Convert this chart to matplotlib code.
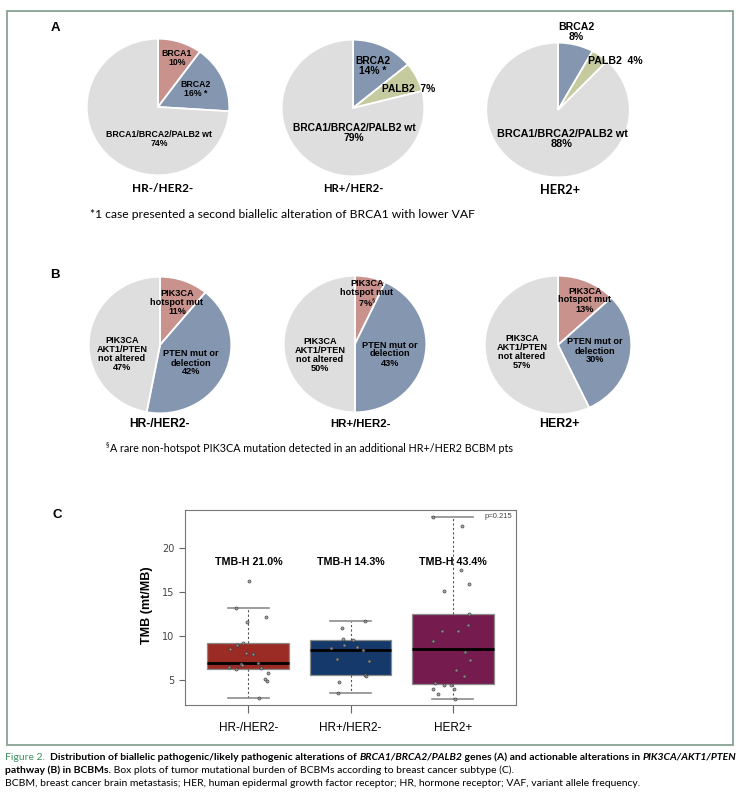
import numpy as np
import matplotlib
matplotlib.use("Agg")
from matplotlib import pyplot as plt
from matplotlib.patches import Rectangle

# ---- data ----
subtypes = ["HR-/HER2-", "HR+/HER2-", "HER2+"]

# A: BRCA1 / BRCA2 / PALB2 / wt (%)
brca_names = ["BRCA1", "BRCA2", "PALB2", "wt"]
brca_hrneg = [10, 16, 0, 74]
brca_hrpos = [0, 14, 7, 79]
brca_her2 = [0, 8, 4, 88]

# B: PIK3CA hotspot / PTEN / not altered (%)
pik_hrneg = [11, 42, 47]
pik_hrpos = [7, 43, 50]
pik_her2 = [13, 30, 57]

# C: TMB box stats
box_q1 = [6.33, 5.64, 4.58]
box_med = [6.97, 8.45, 8.53]
box_q3 = [9.18, 9.56, 12.56]
box_lo = [2.99, 3.56, 2.91]
box_hi = [13.16, 11.72, 23.46]
tmb_high = ["21.0%", "14.3%", "43.4%"]

# C: individual TMB values and their jitter offsets
tmb_hrneg = [16.3, 13.16, 12.18, 11.6, 9.25, 9.0, 8.57, 8.07, 8.0, 6.82, 6.97,
             6.55, 6.25, 6.7, 6.44, 5.87, 5.2, 4.9, 3.0]
jit_hrneg = [0.01, -0.12, 0.17, -0.01, -0.05, -0.11, -0.18, -0.02, 0.05, -0.07, 0.09,
             -0.19, -0.12, -0.06, 0.12, 0.19, 0.16, 0.18, 0.10]
tmb_hrpos = [11.72, 10.9, 9.67, 9.52, 8.95, 8.83, 8.4, 8.68, 7.4, 7.24, 5.64,
             5.53, 4.77, 3.56]
jit_hrpos = [0.14, -0.08, -0.07, 0.02, -0.06, 0.06, 0.12, -0.19, -0.13, 0.18, 0.14,
             0.15, -0.11, -0.12]
tmb_her2 = [23.46, 22.5, 17.5, 15.9, 15.1, 12.56, 11.26, 10.62, 10.54, 9.4, 8.23,
            7.28, 6.14, 5.53, 4.73, 4.5, 4.5, 4.0, 3.97, 3.48, 2.91]
jit_her2 = [-0.19, 0.09, 0.08, 0.16, -0.08, 0.16, 0.15, -0.10, 0.05, -0.19, 0.12,
            0.17, 0.03, 0.11, -0.17, -0.08, -0.02, -0.19, 0.01, -0.14, 0.02]

PINK, BLUE, GREEN, GRAY = "#c9928d", "#8597b0", "#c5ca9f", "#dedede"
brca_colors = [PINK, BLUE, GREEN, GRAY]
pik_colors = [PINK, BLUE, GRAY]
box_colors = ["#9a2c25", "#15396b", "#761b4e"]

W, H = 742, 800
fig = plt.figure(figsize=(W / 100, H / 100), dpi=100)
renderer = fig.canvas.get_renderer()

SANS = ["Liberation Sans", "DejaVu Sans"]
CAL = ["Lato", "DejaVu Sans"]


def fx(x):
    return x / W


def fy(y):
    return 1 - y / H


def put(x, y, s, size=6.5, family=SANS, weight="bold", **kw):
    kw.setdefault("ha", "center")
    kw.setdefault("va", "center")
    return fig.text(fx(x), fy(y), s, fontsize=size, family=family,
                    fontweight=weight, linespacing=1.0, **kw)


def fit(x, y, s, width, family=CAL, weight="normal", **kw):
    t = fig.text(fx(x), fy(y), s, fontsize=10, family=family, fontweight=weight,
                 va="center", **kw)
    t.set_fontsize(10 * width / t.get_window_extent(renderer).width)
    return t


def pie(cx, cy, vals, cols, w=144, h=138):
    ax = fig.add_axes([fx(cx - w / 2), fy(cy + h / 2), w / W, h / H])
    keep = [(v, c) for v, c in zip(vals, cols) if v > 0]
    ax.pie([v for v, _ in keep], colors=[c for _, c in keep], startangle=90,
           counterclock=False, wedgeprops=dict(edgecolor="white", linewidth=1.3))
    ax.set_xlim(-1.01, 1.01)
    ax.set_ylim(-1.01, 1.01)
    ax.set_aspect("auto")
    ax.axis("off")
    return ax


# frame
fig.patches.append(Rectangle((fx(7), fy(745)), (733 - 7) / W, (745 - 11) / H,
                             transform=fig.transFigure, fill=False,
                             edgecolor="#86a392", linewidth=1.3))

# ---- A ----
put(55, 28, "A", size=9.5)
pie(158, 107, brca_hrneg, brca_colors)
pie(353, 108, brca_hrpos, brca_colors)
pie(558, 110, brca_her2, brca_colors, w=145, h=136)

put(177, 58, "BRCA1\n10%", size=6.3)
put(196, 89, "BRCA2\n16% *", size=6.3)
put(159, 139, "BRCA1/BRCA2/PALB2 wt\n74%", size=6.3)
put(373, 66, "BRCA2\n14% *", size=7.4)
put(382, 89, "PALB2  7%", size=7.4, ha="left")
put(354, 133, "BRCA1/BRCA2/PALB2 wt\n79%", size=7.4)
put(576, 32, "BRCA2\n8%", size=7.6)
put(588, 61, "PALB2  4%", size=7.6, ha="left")
put(562, 139, "BRCA1/BRCA2/PALB2 wt\n88%", size=7.8)

fit(132, 189, subtypes[0], 61, weight="bold", ha="left")
fit(323, 189, subtypes[1], 61, weight="bold", ha="left")
fit(540, 190, subtypes[2], 40, weight="bold", ha="left")
fit(90, 215, "*1 case presented a second biallelic alteration of BRCA1 with lower VAF",
    386, ha="left")

# ---- B ----
put(55, 275, "B", size=9.5)
pie(160, 345, pik_hrneg, pik_colors)
pie(355, 344, pik_hrpos, pik_colors)
pie(558, 345, pik_her2, pik_colors, w=148, h=140)

put(177, 303, "PIK3CA\nhotspot mut\n11%", size=6.6)
put(122, 354, "PIK3CA\nAKT1/PTEN\nnot altered\n47%", size=6.6)
put(191, 363, "PTEN mut or\ndelection\n42%", size=6.6)
put(367, 294, "PIK3CA\nhotspot mut\n7%$^{\\S}$", size=6.6)
put(320, 355, "PIK3CA\nAKT1/PTEN\nnot altered\n50%", size=6.6)
put(390, 354, "PTEN mut or\ndelection\n43%", size=6.6)
put(585, 300, "PIK3CA\nhotspot mut\n13%", size=6.6)
put(522, 352, "PIK3CA\nAKT1/PTEN\nnot altered\n57%", size=6.6)
put(595, 351, "PTEN mut or\ndelection\n30%", size=6.6)

fit(129, 424, subtypes[0], 60, family=SANS, weight="bold", ha="left")
fit(330, 424, subtypes[1], 60, family=SANS, weight="bold", ha="left")
fit(539, 424, subtypes[2], 40, family=SANS, weight="bold", ha="left")
put(106, 445, "\u00a7", size=5, family=CAL, weight="normal", ha="left")
fit(110, 449, "A rare non-hotspot PIK3CA mutation detected in an additional HR+/HER2 BCBM pts",
    402, ha="left")

# ---- C ----
put(57, 515, "C", size=9.5)
bx = fig.add_axes([fx(185), fy(705), 331 / W, 195 / H])
stats = [dict(med=m, q1=a, q3=b, whislo=lo, whishi=hi, fliers=[])
         for m, a, b, lo, hi in zip(box_med, box_q1, box_q3, box_lo, box_hi)]
pos = np.arange(1, len(subtypes) + 1)
bp = bx.bxp(stats, positions=pos, widths=0.8, patch_artist=True, showfliers=False,
            capwidths=0.4,
            boxprops=dict(edgecolor="#8c8c8c", linewidth=0.9),
            whiskerprops=dict(color="#555555", linestyle=(0, (2, 2)), linewidth=0.8),
            capprops=dict(color="#8c8c8c", linewidth=1.2),
            medianprops=dict(color="black", linewidth=2))
for patch, c in zip(bp["boxes"], box_colors):
    patch.set_facecolor(c)

for p, vals, jit in zip(pos, [tmb_hrneg, tmb_hrpos, tmb_her2],
                        [jit_hrneg, jit_hrpos, jit_her2]):
    bx.plot(p + np.array(jit), vals, "o", ms=2.2, mfc="#9a9a9a", mec="#333333",
            mew=0.5, alpha=0.85, zorder=5)

for p, t in zip(pos, tmb_high):
    bx.text(p, 18.44, "TMB-H " + t, ha="center", va="center", fontsize=7.7,
            family=SANS, fontweight="bold")
bx.text(0.99, 0.965, "p=0.215", transform=bx.transAxes, ha="right", va="center",
        fontsize=5.5, color="#444444", family=SANS)

bx.set_xlim(0.38, 3.62)
bx.set_ylim(2.2, 24.3)
bx.set_xticks(pos, subtypes, family=SANS, fontsize=8.5)
bx.set_yticks([5, 10, 15, 20])
bx.tick_params(axis="x", length=6, pad=6, color="#666666")
bx.tick_params(axis="y", length=4, labelsize=7, labelcolor="#444444", color="#666666")
for sp in bx.spines.values():
    sp.set_color("#777777")
    sp.set_linewidth(0.8)
put(147, 605, "TMB (mt/MB)", size=9, rotation=90)

# ---- caption ----
lines = [
    [("Figure 2.", dict(color="#3f8f5f")),
     ("  Distribution of biallelic pathogenic/likely pathogenic alterations of ", dict(fontweight="bold")),
     ("BRCA1/BRCA2/PALB2", dict(fontweight="bold", fontstyle="italic")),
     (" genes (A) and actionable alterations in ", dict(fontweight="bold")),
     ("PIK3CA/AKT1/PTEN", dict(fontweight="bold", fontstyle="italic"))],
    [("pathway (B) in BCBMs.", dict(fontweight="bold")),
     (" Box plots of tumor mutational burden of BCBMs according to breast cancer subtype (C).", {})],
    [("BCBM, breast cancer brain metastasis; HER, human epidermal growth factor receptor; "
      "HR, hormone receptor; VAF, variant allele frequency.", {})],
]


def run_width(parts, size):
    total = 0
    for s, kw in parts:
        t = fig.text(0, 0, s, fontsize=size, family=CAL, **kw)
        total += t.get_window_extent(renderer).width
        t.remove()
    return total


cap_size = 10 * 730 / run_width(lines[0], 10)
for line, y in zip(lines, [757, 770, 783]):
    x = 5
    for s, kw in line:
        t = fig.text(fx(x), fy(y), s, fontsize=cap_size, family=CAL, va="center", **kw)
        x += t.get_window_extent(renderer).width

fig.savefig("out.png", dpi=100)
